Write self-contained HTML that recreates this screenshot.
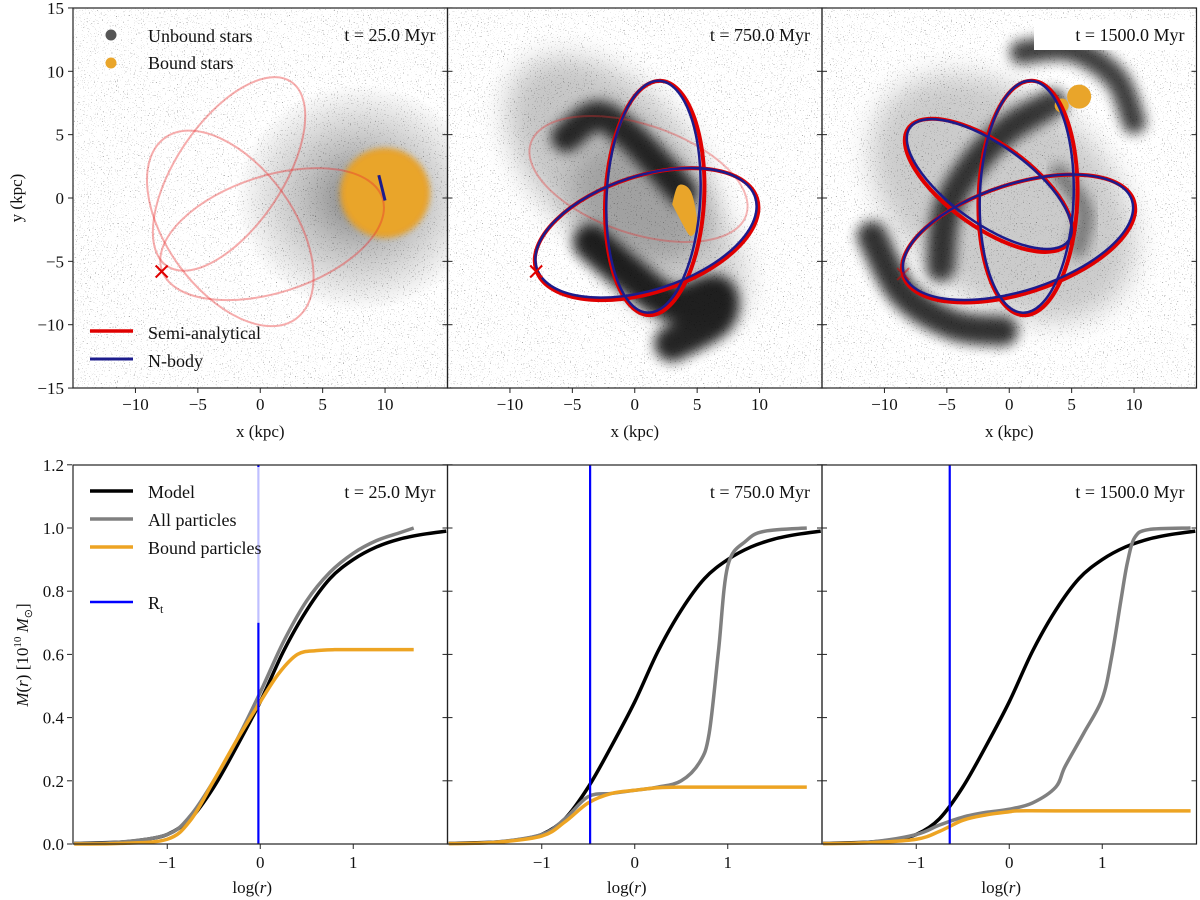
<!DOCTYPE html>
<html><head><meta charset="utf-8"><style>
html,body{margin:0;padding:0;background:#fff;}
svg{display:block;font-family:"Liberation Serif",serif;}
</style></head><body>
<svg id="fig" width="1200" height="900" viewBox="0 0 1200 900" xmlns="http://www.w3.org/2000/svg">
<defs>
<filter id="speck" x="0" y="0" width="1" height="1"><feTurbulence type="fractalNoise" baseFrequency="0.85" numOctaves="1" seed="4"/><feColorMatrix type="matrix" values="0 0 0 0 0  0 0 0 0 0  0 0 0 0 0  13 0 0 0 -8.6"/></filter>
<filter id="blur3" x="-50%" y="-50%" width="200%" height="200%"><feGaussianBlur stdDeviation="3"/></filter>
<filter id="blur6" x="-50%" y="-50%" width="200%" height="200%"><feGaussianBlur stdDeviation="6"/></filter>
<filter id="blur12" x="-50%" y="-50%" width="200%" height="200%"><feGaussianBlur stdDeviation="14"/></filter>
<radialGradient id="cloud1"><stop offset="0" stop-color="#000" stop-opacity="0.5"/><stop offset="0.45" stop-color="#000" stop-opacity="0.25"/><stop offset="1" stop-color="#000" stop-opacity="0"/></radialGradient>
<clipPath id="cp0"><rect x="73" y="8" width="374.5" height="380"/></clipPath>
<clipPath id="cp1"><rect x="447.5" y="8" width="374.5" height="380"/></clipPath>
<clipPath id="cp2"><rect x="822" y="8" width="374.5" height="380"/></clipPath>
</defs>
<g id="layer"></g>
</svg>
<script>
// ---------- data ----------
const panelTimes = ["25.0", "750.0", "1500.0"];
// orbit ellipses: [cx, cy, a, b, angleDeg] in kpc
const pinkOrbits0 = [[0.95,-2.85,9.3,4.6,18],[-2.5,1.9,8.9,4.2,56],[-2.4,-2.4,8.95,5.0,-54]];
const redOrbits1 = [[1.6,0,9.4,3.9,87],[0.95,-2.85,9.3,4.6,18]];
const blueOrbits1 = [[1.5,0.1,9.3,3.7,87],[0.9,-2.75,9.2,4.5,18]];
const pinkOrbits1 = [[0.3,1.5,9.1,4.3,-18.5]];
const redOrbits2 = [[1.5,0,9.4,3.9,88],[-1.65,1,7.9,3.3,-35.5],[0.75,-3.2,9.72,4.3,18]];
const blueOrbits2 = [[1.4,0.1,9.3,3.7,88],[-1.6,1.1,7.8,3.1,-35.5],[0.7,-3.1,9.6,4.2,18]];
const startX = [-7.9,-7.9,-8.5];
const startY = [-5.8,-5.8,-6.0];
const yTicksTop = [15,10,5,0,-5,-10,-15];
const xTicksTop = [-10,-5,0,5,10];
const yTicksBot = [0.0,0.2,0.4,0.6,0.8,1.0,1.2];
const xTicksBot = [-1,0,1];
const modelX = [-2,-1.5,-1.25,-1,-0.75,-0.5,-0.25,0,0.25,0.5,0.75,1,1.25,1.5,1.75,2];
const modelM = [0.002,0.006,0.014,0.03,0.08,0.18,0.31,0.45,0.61,0.74,0.84,0.9,0.94,0.965,0.98,0.99];
const allX0 = [-2,-1.5,-1,-0.75,-0.5,-0.25,0,0.25,0.5,0.75,1,1.25,1.5,1.65];
const allM0 = [0.002,0.006,0.03,0.09,0.2,0.33,0.48,0.64,0.77,0.86,0.92,0.96,0.985,1.0];
const boundX0 = [-2,-1.5,-1,-0.75,-0.5,-0.25,0,0.2,0.4,0.6,0.8,1.2,1.65];
const boundM0 = [0,0.002,0.015,0.075,0.2,0.33,0.45,0.54,0.6,0.612,0.615,0.615,0.615];
const allX1 = [-2,-1.5,-1,-0.75,-0.5,-0.25,0,0.25,0.5,0.7,0.8,0.9,1.0,1.2,1.4,1.85];
const allM1 = [0.002,0.006,0.03,0.08,0.15,0.16,0.17,0.18,0.2,0.26,0.35,0.61,0.88,0.96,0.99,1.0];
const boundX1 = [-2,-1.5,-1,-0.75,-0.5,-0.25,0,0.25,0.5,1.0,1.85];
const boundM1 = [0.001,0.005,0.025,0.07,0.13,0.16,0.17,0.178,0.18,0.18,0.18];
const allX2 = [-2,-1.5,-1,-0.75,-0.5,-0.25,0,0.25,0.5,0.6,0.8,1.0,1.1,1.2,1.27,1.35,1.5,1.95];
const allM2 = [0.002,0.006,0.03,0.06,0.085,0.1,0.11,0.13,0.18,0.245,0.35,0.46,0.59,0.77,0.89,0.97,0.995,1.0];
const boundX2 = [-2,-1.5,-1,-0.75,-0.5,-0.25,0,0.1,0.5,1.95];
const boundM2 = [0.001,0.004,0.015,0.04,0.075,0.092,0.102,0.105,0.105,0.105];
const tidalR = [-0.02,-0.48,-0.64];

// ---------- scales ----------
const NS="http://www.w3.org/2000/svg";
const L=[73,447.5,822], PW=374.5;
function tx(p,x){return L[p]+PW/2+x*12.48;}
function ty(y){return 198-y*12.67;}
function bx(p,x){return L[p]+PW/2+x*93;}
function by(v){return 844-v*316;}
const root=document.getElementById('layer');
function mk(tag,attrs,parent){const e=document.createElementNS(NS,tag);for(const k in attrs)e.setAttribute(k,attrs[k]);(parent||root).appendChild(e);return e;}
function txt(s,x,y,size,anchor,parent){const e=mk('text',{x:x,y:y,'font-size':size,'text-anchor':anchor||'start',fill:'#111'},parent);e.textContent=s;return e;}
function smooth(pts){let d='M'+pts[0][0]+','+pts[0][1];for(let i=0;i<pts.length-1;i++){const p0=pts[Math.max(0,i-1)],p1=pts[i],p2=pts[i+1],p3=pts[Math.min(pts.length-1,i+2)];const c1=[p1[0]+(p2[0]-p0[0])/6,p1[1]+(p2[1]-p0[1])/6],c2=[p2[0]-(p3[0]-p1[0])/6,p2[1]-(p3[1]-p1[1])/6];d+=' C'+c1[0]+','+c1[1]+' '+c2[0]+','+c2[1]+' '+p2[0]+','+p2[1];}return d;}
function dpath(p,pts){return smooth(pts.map(q=>[tx(p,q[0]),ty(q[1])]));}
function band(g,p,pts,w,op,name){
  const s=mk('path',{d:dpath(p,pts),stroke:'#000','stroke-width':w,fill:'none',opacity:op,'stroke-linecap':'round',filter:'url(#blur6)'},g);
  
  
}

// ---------- top panels ----------
for(let p=0;p<3;p++){
  const g=mk('g',{'clip-path':'url(#cp'+p+')'});
  
  
  const bg=mk('rect',{x:L[p],y:8,width:PW,height:380,fill:'#000',filter:'url(#speck)',opacity:0.4},g);
  
  
  if(p===0){
    const c=mk('ellipse',{cx:tx(0,8),cy:ty(0),rx:12.48*10,ry:12.67*9,fill:'url(#cloud1)'},g);
    
    
    const b=mk('circle',{cx:tx(0,10),cy:ty(0.4),r:12.48*3.6,fill:'#e8a32a',filter:'url(#blur3)'},g);
    
    
    mk('circle',{cx:tx(0,10),cy:ty(0.4),r:12.48*3.1,fill:'#e9a52a'},g);
  }
  if(p===1){
    const c=mk('ellipse',{cx:tx(1,-2),cy:ty(3),rx:12.48*10,ry:12.67*6,fill:'#000',opacity:0.22,filter:'url(#blur12)',transform:'rotate(45,'+tx(1,-2)+','+ty(3)+')'},g);
    
    
    const c2=mk('ellipse',{cx:tx(1,2),cy:ty(-3),rx:12.48*9,ry:12.67*5,fill:'#000',opacity:0.18,filter:'url(#blur12)',transform:'rotate(50,'+tx(1,2)+','+ty(-3)+')'},g);
    
    
    band(g,1,[[-5.5,4.8],[-3,6.5],[-0.5,5],[2,2.5],[3.8,0.5]],30,0.8,'stream-band-upper');
    band(g,1,[[-3.5,-3.5],[-0.5,-6],[3,-8.3],[6.5,-7.5],[6.5,-9.5],[3,-11.5]],36,0.85,'stream-band-lower');
    const b=mk('path',{d:dpath(1,[[3,-0.5],[3.5,1],[4.5,0.5],[5,-2],[4.5,-3],[3.8,-2]])+'Z',fill:'#e9a52a'},g);
    
    
  }
  if(p===2){
    const c=mk('ellipse',{cx:tx(2,-0.5),cy:ty(0),rx:12.48*12,ry:12.67*8,fill:'#000',opacity:0.2,filter:'url(#blur12)',transform:'rotate(40,'+tx(2,-0.5)+','+ty(0)+')'},g);
    
    
    band(g,2,[[-11,-3],[-8.5,-7.5],[-4.5,-10],[-0.5,-10.5]],30,0.8,'stream-arc-lower');
    band(g,2,[[1,11.5],[5,11.7],[8.5,9.5],[10,6]],24,0.75,'stream-arc-upper');
    band(g,2,[[-5.5,-5.5],[-5,-1],[-3,2.5],[0,5.5],[3.5,7.5]],28,0.75,'stream-band-inner');
    band(g,2,[[4,2],[6,-1],[5.5,-4]],18,0.4,'stream-band-right');
    const b=mk('circle',{cx:tx(2,5.6),cy:ty(8),r:12,fill:'#e9a52a'},g);
    
    
    mk('circle',{cx:tx(2,4.2),cy:ty(7.3),r:7,fill:'#e9a52a'},g);
  }
  function drawOrbits(arr,color,w,op,name){
    arr.forEach((o,i)=>{
      const cx=tx(p,o[0]),cy=ty(o[1]);
      const e=mk('ellipse',{cx:cx,cy:cy,rx:o[2]*12.48,ry:o[3]*12.67,fill:'none',stroke:color,'stroke-width':w,opacity:op,transform:'rotate('+(-o[4])+','+cx+','+cy+')'},g);
      
      
    });
  }
  if(p===0){drawOrbits(pinkOrbits0,'#e83030',2,0.4,'semi-analytical-orbit');
    const nb=mk('line',{x1:tx(0,9.5),y1:ty(1.8),x2:tx(0,10),y2:ty(-0.2),stroke:'#1c1c8c','stroke-width':3},g);
    
    }
  if(p===1){drawOrbits(pinkOrbits1,'#e83030',2,0.35,'past-orbit');drawOrbits(redOrbits1,'#e00000',4,1,'semi-analytical-orbit');drawOrbits(blueOrbits1,'#1c1c8c',2.5,1,'nbody-orbit');}
  if(p===2){drawOrbits(redOrbits2,'#e00000',4,1,'semi-analytical-orbit');drawOrbits(blueOrbits2,'#1c1c8c',2.5,1,'nbody-orbit');}
  const X=tx(p,startX[p]),Y=ty(startY[p]);
  const xm=mk('path',{d:'M'+(X-6)+','+(Y-6)+'L'+(X+6)+','+(Y+6)+'M'+(X-6)+','+(Y+6)+'L'+(X+6)+','+(Y-6),stroke:'#e00000','stroke-width':2,opacity:p===2?0.5:1},g);
  
  
  if(p===2){mk('rect',{x:1034,y:20,width:158,height:30,fill:'#fff'});}
  const tl=txt('t  = '+panelTimes[p]+'  Myr',L[p]+PW-12,41,18,'end');
  
  
  tl.setAttribute('xml:space','preserve');
  const fr=mk('rect',{x:L[p],y:8,width:PW,height:380,fill:'none',stroke:'#222','stroke-width':1.2});
  
  
  xTicksTop.forEach(v=>{const x=tx(p,v);mk('line',{x1:x,y1:388,x2:x,y2:393,stroke:'#222'});
    const t=txt(v<0?'\u2212'+(-v):String(v),x,410,17,'middle');
    
    });
  yTicksTop.forEach(v=>{const y=ty(v);
    if(p===0){mk('line',{x1:68,y1:y,x2:73,y2:y,stroke:'#222'});
      const t=txt(v<0?'\u2212'+(-v):String(v),64,y+6,17,'end');
      
      }
    else mk('line',{x1:L[p],y1:y,x2:L[p]+5,y2:y,stroke:'#222'});
    mk('line',{x1:L[p]+PW-5,y1:y,x2:L[p]+PW,y2:y,stroke:'#222'});});
  const xl=txt('x (kpc)',L[p]+PW/2,437,17,'middle');
  
  
}
const yl=txt('y (kpc)',0,0,17,'middle');
yl.setAttribute('transform','translate(22,198) rotate(-90)');


const lg1=mk('g',{});


mk('circle',{cx:111,cy:35,r:5.5,fill:'#555'},lg1);
txt('Unbound stars',148,42,18,'start',lg1);
mk('circle',{cx:111,cy:63,r:5.5,fill:'#e9a52a'},lg1);
txt('Bound stars',148,69,18,'start',lg1);
const lg2=mk('g',{});


mk('line',{x1:90,y1:331,x2:133,y2:331,stroke:'#e00000','stroke-width':3.5},lg2);
txt('Semi-analytical',148,339,18,'start',lg2);
mk('line',{x1:90,y1:359,x2:133,y2:359,stroke:'#1c1c8c','stroke-width':3},lg2);
txt('N-body',148,367,18,'start',lg2);

// ---------- bottom panels ----------
const allXs=[allX0,allX1,allX2], allMs=[allM0,allM1,allM2], bXs=[boundX0,boundX1,boundX2], bMs=[boundM0,boundM1,boundM2];
for(let p=0;p<3;p++){
  const g=mk('g',{});
  
  
  function line(xs,ms,color,w,name){
    const e=mk('path',{d:smooth(xs.map((x,i)=>[bx(p,x),by(ms[i])])),fill:'none',stroke:color,'stroke-width':w,'stroke-linejoin':'round'},g);
    
    
  }
  line(modelX,modelM,'#000',3.5,'model-curve');
  line(allXs[p],allMs[p],'#808080',3.5,'all-particles-curve');
  line(bXs[p],bMs[p],'#eda423',3.5,'bound-particles-curve');
  const rx=bx(p,tidalR[p]);
  const rl=mk('line',{x1:rx,y1:465,x2:rx,y2:844,stroke:'#0000ff','stroke-width':2.2},g);
  
  
  if(p===0){mk('rect',{x:rx-2,y:467,width:4,height:by(0.7)-467,fill:'#fff',opacity:0.75},g);}
  const fr=mk('rect',{x:L[p],y:465,width:PW,height:379,fill:'none',stroke:'#222','stroke-width':1.2});
  
  
  xTicksBot.forEach(v=>{const x=bx(p,v);mk('line',{x1:x,y1:844,x2:x,y2:849,stroke:'#222'});
    const t=txt(v<0?'\u2212'+(-v):String(v),x,868,17,'middle');
    
    });
  yTicksBot.forEach(v=>{const y=by(v);
    if(p===0){mk('line',{x1:67,y1:y,x2:72,y2:y,stroke:'#222'});
      const t=txt(v.toFixed(1),64,y+6,17,'end');
      
      }
    else mk('line',{x1:L[p],y1:y,x2:L[p]+5,y2:y,stroke:'#222'});
    mk('line',{x1:L[p]+PW-5,y1:y,x2:L[p]+PW,y2:y,stroke:'#222'});});
  const xl=txt('log(',L[p]+PW/2-8,893,17,'middle');
  
  
  const ts=mk('tspan',{'font-style':'italic'},xl);ts.textContent='r';
  const ts2=mk('tspan',{},xl);ts2.textContent=')';
  const tl=txt('t  = '+panelTimes[p]+'  Myr',L[p]+PW-12,498,18,'end');
  
  
  tl.setAttribute('xml:space','preserve');
}
const myl=mk('text',{'font-size':17,'text-anchor':'middle',fill:'#111',transform:'translate(28,655) rotate(-90)'});


myl.innerHTML='<tspan font-style="italic">M</tspan>(<tspan font-style="italic">r</tspan>) [10<tspan font-size="11" dy="-7">10</tspan><tspan dy="7"> </tspan><tspan font-style="italic">M</tspan><tspan font-size="11" dy="4">⊙</tspan><tspan dy="-4">]</tspan>';
const lg3=mk('g',{});


const legItems=[['Model','#000',491],['All particles','#808080',519],['Bound particles','#eda423',547],['R','#0000ff',602]];
legItems.forEach(it=>{mk('line',{x1:90,y1:it[2],x2:133,y2:it[2],stroke:it[1],'stroke-width':it[0]==='R'?2.5:3.5},lg3);
  const t=txt(it[0],148,it[2]+7,18,'start',lg3);
  if(it[0]==='R'){const s=mk('tspan',{'font-size':12,dy:4},t);s.textContent='t';}});
</script>
</body></html>
